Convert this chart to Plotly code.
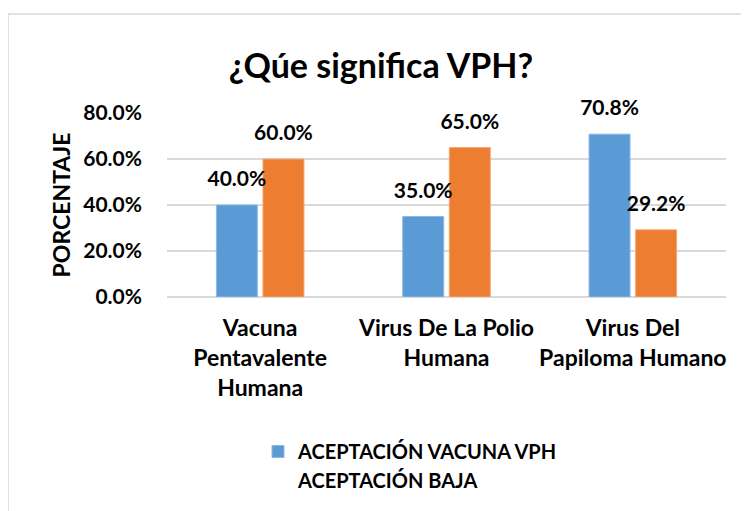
import plotly.graph_objects as go

categorias = ['Vacuna<br>Pentavalente<br>Humana', 'Virus De La Polio<br>Humana', 'Virus Del<br>Papiloma Humano']
aceptacion_vacuna = [0.400, 0.350, 0.708]
aceptacion_baja = [0.600, 0.650, 0.292]
ticks_y = [0, 0.2, 0.4, 0.6, 0.8]

FUENTE = 'Lato'
AZUL = '#5B9BD5'
NARANJA = '#ED7D31'

# la pagina tiene 8px de margen en el body
W, H = 741, 503

fig = go.Figure()
fig.add_trace(go.Bar(x=categorias, y=aceptacion_vacuna, offsetgroup='vacuna',
                     name='<b>ACEPTACIÓN VACUNA VPH</b>',
                     marker=dict(color=AZUL, line=dict(color='#8DB9E4', width=1))))
fig.add_trace(go.Bar(x=categorias, y=aceptacion_baja, offsetgroup='baja',
                     name='<b>ACEPTACIÓN BAJA</b>', showlegend=False,
                     marker=dict(color=NARANJA, line=dict(color='#F3A874', width=1))))

# etiquetas de datos (un poco separadas de la barra, como en Excel)
for grupo, serie in [('vacuna', aceptacion_vacuna), ('baja', aceptacion_baja)]:
    fig.add_trace(go.Scatter(x=categorias, y=serie, mode='markers+text',
                             offsetgroup=grupo,
                             text=['<b>%.1f%%</b>' % (v * 100) for v in serie],
                             textposition='top center', cliponaxis=False,
                             textfont=dict(family=FUENTE, size=21, color='black'),
                             marker=dict(size=20, opacity=0),
                             showlegend=False, hoverinfo='skip'))

# entrada de leyenda sin simbolo (como en el original)
fig.add_trace(go.Scatter(x=[None], y=[None], mode='markers', offsetgroup='baja',
                         name='<b>ACEPTACIÓN BAJA</b>',
                         marker=dict(color='rgba(0,0,0,0)', size=1)))

fig.update_layout(
    width=W, height=H,
    paper_bgcolor='white', plot_bgcolor='white',
    margin=dict(l=159, r=23, t=105, b=214, autoexpand=False),
    barmode='group', bargap=0.5, bargroupgap=0.12,
    scattermode='group', scattergap=0.5,
    font=dict(family=FUENTE, color='black'),
    title=dict(text='<b>¿Qúe significa VPH?</b>', x=(381 - 8) / W, xref='container', xanchor='center',
               y=1 - (66 - 8) / H, yref='container', yanchor='middle',
               font=dict(family=FUENTE, size=34, color='black')),
    legend=dict(x=(258 - 167) / 559, y=(297 - 432) / 184, xanchor='left', yanchor='top',
                orientation='v', itemwidth=30,
                font=dict(family=FUENTE, size=20, color='black'),
                bgcolor='rgba(0,0,0,0)'),
    shapes=[dict(type='rect', xref='paper', yref='paper',
                 x0=(8 - 167) / 559, x1=(780 - 167) / 559,
                 y0=(297 - 540) / 184, y1=(297 - 14) / 184,
                 line=dict(color='#D9D9D9', width=1.5), layer='below')],
)

fig.update_yaxes(range=[0, 0.8], automargin=False,
                 showgrid=True, gridcolor='#D9D9D9', gridwidth=1.5,
                 zeroline=True, zerolinecolor='#D9D9D9', zerolinewidth=1.5,
                 ticks='', ticklabelstandoff=24,
                 tickfont=dict(family=FUENTE, size=21, color='black'),
                 ticktext=['<b>%.1f%%</b>' % (v * 100) for v in ticks_y], tickvals=ticks_y,
                 title=dict(text='<b>PORCENTAJE</b>', standoff=6,
                            font=dict(family=FUENTE, size=23, color='black')))
fig.update_xaxes(showline=False, ticks='', automargin=False,
                 tickfont=dict(family=FUENTE, size=23, color='black'),
                 ticktext=['<b>' + c + '</b>' for c in categorias], tickvals=categorias,
                 ticklabelstandoff=15)

fig.write_html("out.html")
